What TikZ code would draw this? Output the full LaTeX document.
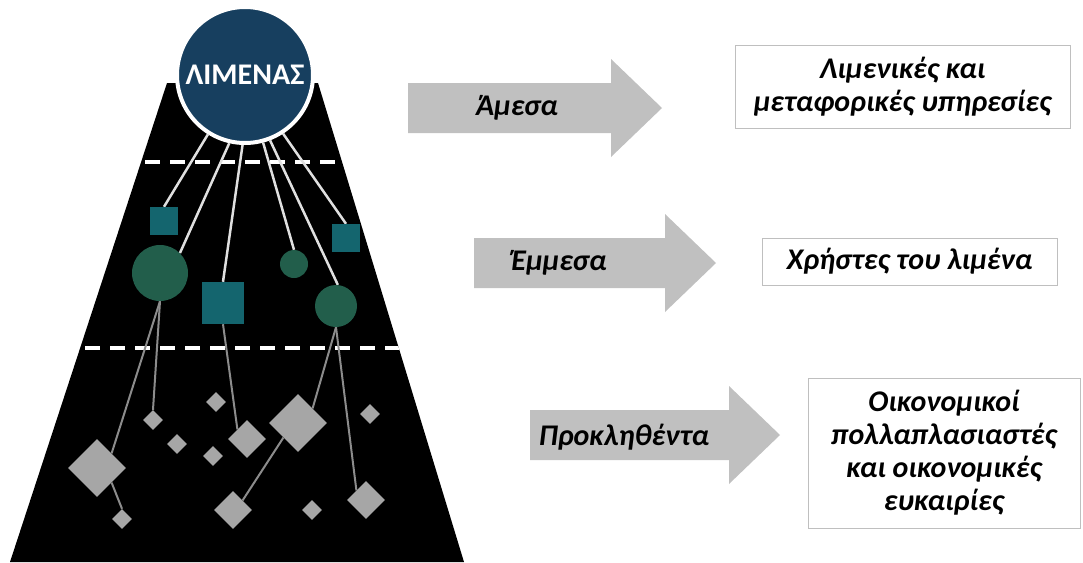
\documentclass[tikz,border=0pt]{standalone}
\usepackage{fontspec}
\setmainfont{Carlito}
\usetikzlibrary{shapes.geometric}
\definecolor{portblue}{HTML}{173F5F}
\definecolor{tealsq}{HTML}{14656E}
\definecolor{greencirc}{HTML}{225E4B}
\definecolor{lightline}{HTML}{E0E0E0}
\definecolor{darkline}{HTML}{8C8C8C}
\definecolor{diagray}{HTML}{A6A6A6}
\definecolor{arrowgray}{HTML}{C0C0C0}
\definecolor{boxgray}{HTML}{BFBFBF}
\pgfdeclarelayer{bg}
\pgfsetlayers{bg,main}
\newcommand\blockarr[3]{% left x, head x, center y
  \fill[arrowgray] (#1,#3-25) -- (#2,#3-25) -- (#2,#3-49) -- (#2+51,#3) -- (#2,#3+49) -- (#2,#3+25) -- (#1,#3+25) -- cycle;}
\begin{document}
\begin{tikzpicture}[x=1pt,y=-1pt,
  sqr/.style={rectangle, fill=tealsq, minimum size=#1, inner sep=0pt},
  circ/.style={circle, fill=greencirc, minimum size=#1, inner sep=0pt},
  dia/.style={diamond, fill=diagray, minimum width=#1, minimum height=#1, inner sep=0pt, shape aspect=1},
  topline/.style={draw=lightline, line width=2.5pt},
  lowline/.style={draw=darkline, line width=2pt},
  lbl/.style={font=\bfseries\itshape\fontsize{30}{33}\selectfont, align=center, inner sep=0pt},
  outbox/.style={draw=boxgray, line width=1pt, fill=white, align=center, inner sep=0pt, font=\bfseries\itshape\fontsize{30}{33}\selectfont}]
\useasboundingbox (0,0) rectangle (1083,562);

% port
\node[circle, fill=portblue, draw=white, line width=4pt, minimum size=136pt, inner sep=0pt,
      text=white, font=\bfseries\fontsize{30}{36}\selectfont] (port) at (245,75) {ΛΙΜΕΝΑΣ};

% middle layer
\node[sqr=28pt] (sq1) at (164,221) {};
\node[circ=56pt] (c1) at (160,273) {};
\node[sqr=42pt] (sq2) at (223,303) {};
\node[circ=28pt] (c2) at (294,264) {};
\node[sqr=28pt] (sq3) at (346,238) {};
\node[circ=42pt] (c3) at (336,306) {};

% lower layer
\node[dia=58pt] (d1) at (97,468) {};
\node[dia=20pt] (d2) at (153,420) {};
\node[dia=20pt] (d3) at (177,444) {};
\node[dia=20pt] (d4) at (122,519) {};
\node[dia=20pt] (d5) at (216,402) {};
\node[dia=20pt] (d6) at (213,456) {};
\node[dia=38pt] (d7) at (247,439) {};
\node[dia=38pt] (d8) at (233,510) {};
\node[dia=58pt] (d9) at (298,423) {};
\node[dia=20pt] (d10) at (370,414) {};
\node[dia=20pt] (d11) at (312,510) {};
\node[dia=38pt] (d12) at (366,500) {};

\begin{pgfonlayer}{bg}
  \fill[black] (167,83) -- (318,83) -- (464,562) -- (10,562) -- cycle;
  \begin{scope}
    \clip (167,83) -- (318,83) -- (464,562) -- (10,562) -- cycle;
    \draw[white, line width=3.5pt, dash pattern=on 15pt off 10pt] (120,162) -- (360,162);
    \draw[white, line width=3.5pt, dash pattern=on 15pt off 10pt] (60,348) -- (420,348);
  \end{scope}
  \draw[topline] (port.238) -- (sq1.north);
  \draw[topline] (port.257) -- (c1.45);
  \draw[topline] (port.268) -- (sq2.north);
  \draw[topline] (port.285) -- (c2.north);
  \draw[topline] (port.291) -- (c3.85);
  \draw[topline] (port.303) -- (sq3.north);
  \draw[lowline] (c1.south) -- (d1.north east);
  \draw[lowline] (c1.south) -- (d2.north);
  \draw[lowline] (sq2.south) -- (d7.north west);
  \draw[lowline] (c3.south) -- (d9.north east);
  \draw[lowline] (c3.south) -- (d12.north west);
  \draw[lowline] (d1.south east) -- (d4.north);
  \draw[lowline] (d9.south west) -- (d8.north east);
\end{pgfonlayer}

% arrows
\blockarr{408}{611}{108}
\blockarr{474}{665}{263}
\blockarr{530}{729}{435}
\node[lbl] (a1) at (517,108) {Άμεσα};
\node[lbl] (a2) at (559,263) {Έμμεσα};
\node[lbl] (a3) at (624,437) {Προκληθέντα};

% boxes
\node[outbox, minimum width=335pt, minimum height=83pt] (b1) at (902.5,86.5) {Λιμενικές και\\μεταφορικές υπηρεσίες};
\node[outbox, minimum width=295pt, minimum height=47pt] (b2) at (909.5,261.5) {Χρήστες του λιμένα};
\node[outbox, minimum width=272pt, minimum height=150pt] (b3) at (944,453) {Οικονομικοί\\πολλαπλασιαστές\\και οικονομικές\\ευκαιρίες};
\end{tikzpicture}
\end{document}
